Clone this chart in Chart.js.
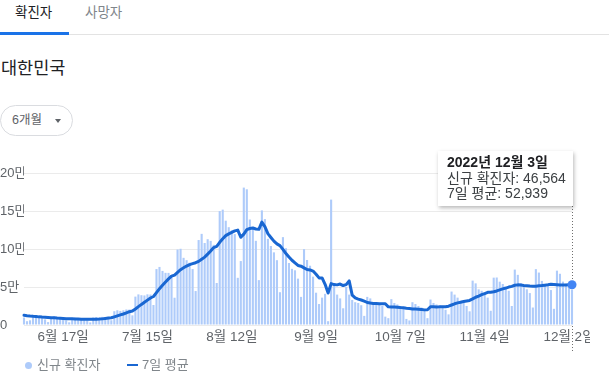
<!DOCTYPE html>
<html><head><meta charset="utf-8">
<script src="https://cdn.jsdelivr.net/npm/chart.js@4/dist/chart.umd.min.js"></script>
<style>
html,body{margin:0;padding:0;background:#fff;width:609px;height:391px;overflow:hidden;font-family:"Liberation Sans",Arial,"Noto Sans CJK KR",sans-serif;}
.abs{position:absolute;white-space:nowrap;}
.tab{top:3px;font-size:13.5px;line-height:20px;}
#btn{left:0;top:105px;width:73px;height:31px;box-sizing:border-box;border:1px solid #dadce0;border-radius:16px;}
#btn span.t{position:absolute;left:11px;top:6px;font-size:12.5px;line-height:17px;color:#5f6368;}
#btn span.tri{position:absolute;left:54px;top:13px;width:0;height:0;border-left:3.5px solid transparent;border-right:3.5px solid transparent;border-top:4px solid #5f6368;}
#wrap{left:0;top:140px;width:590px;height:220px;}
#tip{top:151px;width:135px;height:55px;box-sizing:border-box;background:#fff;padding:4px 0 0 9px;box-shadow:1px 2px 4px rgba(0,0,0,0.28);font-size:14px;line-height:15.5px;color:#3c4043;}
#tip b{color:#202124;}
.leg{top:356px;font-size:13px;line-height:18px;color:#80868b;}
</style></head><body>
<div class="abs tab" style="left:15px;color:#202124">확진자</div>
<div class="abs tab" style="left:85px;color:#80868b">사망자</div>
<div class="abs" style="left:0;top:32px;width:69px;height:3px;background:#1a73e8"></div>
<div class="abs" style="left:69px;top:34px;width:540px;height:1px;background:#e3e3e3"></div>
<div class="abs" style="left:1px;top:57px;font-size:17.5px;line-height:22px;color:#202124">대한민국</div>
<div class="abs" id="btn"><span class="t">6개월</span><span class="tri"></span></div>
<div class="abs" id="wrap"><canvas id="c" width="590" height="220"></canvas></div>
<div class="abs" id="tip"><b id="tipDate"></b><br><span id="tipCases"></span><br><span id="tipAvg"></span></div>
<div class="abs" style="left:25px;top:362px;width:7px;height:7px;border-radius:50%;background:#aecbfa"></div>
<div class="abs leg" style="left:37px">신규 확진자</div>
<div class="abs" style="left:127px;top:364px;width:11px;height:2px;background:#1967d2"></div>
<div class="abs leg" style="left:142px">7일 평균</div>
<script>
const startDate = '2022-06-04';
const seriesNames = ['신규 확진자', '7일 평균'];
const newCases = [
9830,4975,6171,13358,12155,10064,9315,7382,3828,9200,
11400,8400,7900,7200,6000,3500,9300,9600,7500,7200,
6200,6100,3400,9900,10500,9600,10715,10059,9528,6253,
18147,19371,18511,19323,20410,20342,12693,37360,40266,39196,
38882,40342,40059,26299,73582,76402,71170,68632,68551,65433,
35883,99327,100285,88384,85285,82002,73589,44689,111789,119922,
107894,112901,110666,105507,55292,149897,151792,137241,128714,124592,
119603,62078,84128,180803,178574,138812,128969,110770,59046,150802,
139339,113371,103961,95604,85295,43142,115616,101000,81573,73902,
72000,61000,37000,99837,85500,78000,63600,42500,27600,36000,
41000,5000,165000,55000,40000,35000,22000,50000,40000,33000,
30000,29000,26000,12000,37000,35000,30000,29000,28000,25000,
11000,9000,34000,29000,27000,25000,23000,8000,6000,30000,
27600,25000,23000,20000,9000,33500,29000,27000,26000,24000,
20000,14000,44000,40000,36000,32000,31000,25000,18000,58400,
54800,46900,45000,42000,36000,18700,62300,62500,57000,54000,
50000,45000,25000,72900,66000,55000,51000,47000,42000,23000,
73500,69000,58000,54000,51000,46000,21300,71500,67400,57100,
54300,52800,46564];
const avg7 = [
12900,12300,11800,11400,11100,10700,10400,10200,9900,9600,
9400,9100,8900,8600,8300,8200,8100,7900,7800,7700,
7600,7500,7500,7600,7700,7800,8060,8600,9100,9500,
10680,11950,13230,14460,15940,17480,18400,21140,24130,27080,
29880,32730,35540,37490,42660,47820,52390,56640,60670,64300,
65660,69340,72750,75210,77590,79510,80680,81940,83720,86520,
89310,93260,97350,101910,103420,108870,113420,117610,119870,121860,
123880,124850,115450,119590,125500,126940,127570,126300,125870,135400,
129470,120160,115180,110410,106770,104500,99480,94000,89500,85200,
81800,78300,77400,75200,73000,72500,71000,66800,62000,61900,
53500,42000,54400,53200,52800,53900,51900,53100,58100,39300,
35700,34100,32900,31400,29600,28900,28400,28300,28100,28000,
27900,23900,23700,23600,23300,22900,22600,22100,21700,21100,
20900,20700,20400,19900,20100,24000,23900,23800,23900,24100,
24100,24800,26300,27900,29100,30000,31000,31700,32300,34300,
36500,38000,39900,41400,43000,43100,43700,44800,46200,47500,
48600,49900,50800,52300,52800,52600,52100,51700,51300,51000,
51100,51500,51900,52400,52900,53500,53300,53000,52700,52600,
52700,52900,52939];
const xTickDates = ['2022-06-17','2022-07-15','2022-08-12','2022-09-09','2022-10-07','2022-11-04','2022-12-02'];
const xTickLabels = ['6월 17일','7월 15일','8월 12일','9월 9일','10월 7일','11월 4일','12월 2일'];
const yTickValues = [0,50000,100000,150000,200000];
const yTickLabels = ['0','5만','10만','15만','20만'];

// category labels: one date per data point
const dates = [];
const d0 = new Date(startDate + 'T00:00:00Z');
for (let i = 0; i < newCases.length; i++) {
  const d = new Date(d0.getTime() + i * 86400000);
  dates.push(d.toISOString().slice(0, 10));
}
const LAST = newCases.length - 1;

Chart.defaults.font.family = "'Liberation Sans', Arial, 'Noto Sans CJK KR', sans-serif";
Chart.defaults.font.size = 13;
Chart.defaults.color = '#5f6368';

const cursorLine = {
  id: 'cursorLine',
  beforeDatasetsDraw(chart) {
    const ctx = chart.ctx;
    const px = Math.round(chart.scales.x.getPixelForValue(LAST)) + 0.5;
    ctx.save();
    ctx.strokeStyle = '#6f6f6f';
    ctx.lineWidth = 1;
    ctx.setLineDash([1, 2]);
    ctx.beginPath();
    ctx.moveTo(px, 66);
    ctx.lineTo(px, 213);
    ctx.stroke();
    ctx.restore();
  }
};

const chart = new Chart(document.getElementById('c'), {
  type: 'bar',
  data: {
    labels: dates,
    datasets: [
      {
        type: 'line', label: seriesNames[1], data: avg7, order: 0,
        borderColor: '#1967d2', borderWidth: 3, tension: 0,
        pointRadius: c => c.dataIndex === LAST ? 4.5 : 0,
        pointBackgroundColor: '#4285f4', pointBorderWidth: 0,
        clip: false, borderJoinStyle: 'round', borderCapStyle: 'round'
      },
      {
        type: 'bar', label: seriesNames[0], data: newCases, order: 1,
        backgroundColor: '#aecbfa', barPercentage: 0.7, categoryPercentage: 1,
        clip: false
      }
    ]
  },
  options: {
    responsive: false, animation: false,
    layout: { padding: { top: 33, right: 18, bottom: 15, left: 0 } },
    plugins: { legend: { display: false }, tooltip: { enabled: false } },
    scales: {
      x: {
        offset: false,
        grid: { display: false, drawTicks: false },
        border: { display: false },
        ticks: {
          autoSkip: false, maxRotation: 0, minRotation: 0, padding: 4,
          color: '#5f6368', font: { size: 13.5 },
          callback: (v, i) => { const k = xTickDates.indexOf(dates[i]); return k >= 0 ? xTickLabels[k] : ''; }
        },
        afterFit: s => { s.height = 20; }
      },
      y: {
        min: 0, max: 200000,
        afterBuildTicks: s => { s.ticks = yTickValues.map(v => ({ value: v })); },
        grid: { color: '#ebebeb', drawTicks: false },
        border: { display: false },
        ticks: {
          crossAlign: 'far', padding: 0, color: '#5f6368',
          callback: v => yTickLabels[yTickValues.indexOf(v)]
        },
        afterFit: s => { s.width = 24; }
      }
    }
  },
  plugins: [cursorLine]
});

// tooltip content from data
const ld = new Date(dates[LAST] + 'T00:00:00Z');
document.getElementById('tipDate').textContent = ld.getUTCFullYear() + '년 ' + (ld.getUTCMonth() + 1) + '월 ' + ld.getUTCDate() + '일';
document.getElementById('tipCases').textContent = seriesNames[0] + ': ' + newCases[LAST].toLocaleString('en-US');
document.getElementById('tipAvg').textContent = seriesNames[1] + ': ' + avg7[LAST].toLocaleString('en-US');
const tip = document.getElementById('tip');
tip.style.left = (chart.scales.x.getPixelForValue(LAST) + 1 - 135) + 'px';
</script>
</body></html>
